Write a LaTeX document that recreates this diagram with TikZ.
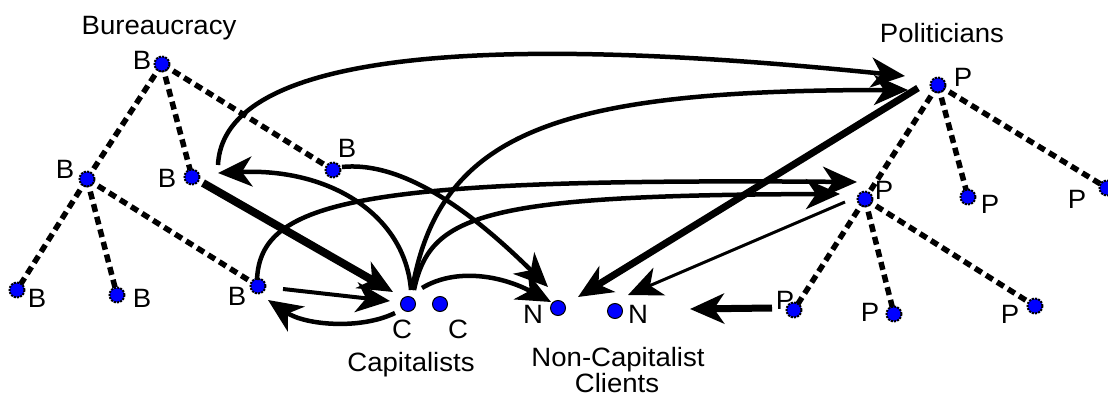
\documentclass[tikz,border=0pt]{standalone}
\usepackage{fontspec}
\setmainfont{Liberation Sans}[FakeStretch=1.04]
\usetikzlibrary{arrows.meta}
\pgfdeclarelayer{bg}
\pgfsetlayers{bg,main}
\begin{document}
\begin{tikzpicture}[x=1pt,y=-1pt,
  dot/.style={circle,fill=blue,draw=black,line width=2pt,dash pattern=on 2pt off 1.2pt,minimum size=15pt,inner sep=0},
  cdot/.style={circle,fill=blue,draw=black,line width=1pt,minimum size=15pt,inner sep=0},
  lbl/.style={anchor=base,inner sep=0,font=\fontsize{26.5}{30}\selectfont},
  tie/.style={line width=5.5pt,dash pattern=on 8pt off 5pt},
  arr/.style={line width=4.5pt,-{Stealth[length=34pt,width=30pt,inset=10pt]}},
]
\useasboundingbox (0,0) rectangle (1108,396);

% nodes
\node[dot] (B1) at (162,64) {};
\node[dot] (B2) at (87,179) {};
\node[dot] (B3) at (192,177) {};
\node[dot] (B4) at (333,170) {};
\node[dot] (B5) at (17,290) {};
\node[dot] (B6) at (117,295) {};
\node[dot] (B7) at (258,286) {};
\node[cdot] (C1) at (408,304) {};
\node[cdot] (C2) at (440,304) {};
\node[cdot] (N1) at (558,308) {};
\node[cdot] (N2) at (615,311) {};
\node[dot] (P1) at (938,85) {};
\node[dot] (P2) at (865,199) {};
\node[dot] (P3) at (968,197) {};
\node[dot] (P4) at (1107,188) {};
\node[dot] (P5) at (794,310) {};
\node[dot] (P6) at (894,314) {};
\node[dot] (P7) at (1035,306) {};

% labels
\node[lbl] (tBur) at (159,35) {Bureaucracy};
\node[lbl] (tPol) at (942,43) {Politicians};
\node[lbl] (tCap) at (411,371) {Capitalists};
\node[lbl] (tNon) at (618,366) {Non-Capitalist};
\node[lbl] (tCli) at (617,392) {Clients};
\node[lbl] (lB1) at (142,70) {B};
\node[lbl] (lB2) at (65,178) {B};
\node[lbl] (lB3) at (167,187) {B};
\node[lbl] (lB4) at (347,157) {B};
\node[lbl] (lB5) at (37,307) {B};
\node[lbl] (lB6) at (142,307) {B};
\node[lbl] (lB7) at (237,305) {B};
\node[lbl] (lC1) at (402,338) {C};
\node[lbl] (lC2) at (458,338) {C};
\node[lbl] (lN1) at (533,323) {N};
\node[lbl] (lN2) at (638,323) {N};
\node[lbl] (lP1) at (963,86) {P};
\node[lbl] (lP2) at (884,199) {P};
\node[lbl] (lP3) at (990,213) {P};
\node[lbl] (lP4) at (1077,208) {P};
\node[lbl] (lP5) at (785,309) {P};
\node[lbl] (lP6) at (870,321) {P};
\node[lbl] (lP7) at (1010,323) {P};

% hierarchy ties
\begin{pgfonlayer}{bg}
\draw[tie] (B1.center) -- (B2.center);
\draw[tie] (B1.center) -- (B3.center);
\draw[tie] (B1.center) -- (B4.center);
\draw[tie] (B2.center) -- (B5.center);
\draw[tie] (B2.center) -- (B6.center);
\draw[tie] (B2.center) -- (B7.center);
\draw[tie] (P1.center) -- (P2.center);
\draw[tie] (P1.center) -- (P3.center);
\draw[tie] (P1.center) -- (P4.center);
\draw[tie] (P2.center) -- (P5.center);
\draw[tie] (P2.center) -- (P6.center);
\draw[tie] (P2.center) -- (P7.center);
\end{pgfonlayer}

% connectors
\draw[arr,line width=8pt] ([shift={(11,6)}]B3.center) -- ([shift={(-15,-12)}]C1.center);
\draw[arr,line width=4pt] ([shift={(25,3)}]B7.center) -- ([shift={(-18,-3)}]C1.center);
\draw[arr] ([shift={(-13,9)}]C1.center) .. controls (360,330) and (305,325) .. ([shift={(10,14)}]B7.center);
\draw[arr] ([shift={(3,-14)}]C1.center) .. controls (405,215) and (330,168) .. ([shift={(26,-4)}]B3.center);
\draw[arr] ([shift={(9,-3)}]B4.center) .. controls (410,160) and (485,225) .. ([shift={(-10,-21)}]N1.center);
\draw[arr] ([shift={(14,-16)}]C1.center) .. controls (455,268) and (500,275) .. ([shift={(-7,-6)}]N1.center);
\draw[arr] ([shift={(26,-12)}]B3.center) .. controls (225,20) and (650,50) .. ([shift={(-33,-9)}]P1.center);
\draw[arr] ([shift={(4,-14)}]C1.center) .. controls (440,130) and (560,90) .. ([shift={(-30,5)}]P1.center);
\draw[arr,line width=7pt] ([shift={(-20,3)}]P1.center) -- ([shift={(20,-11)}]N1.center);
\draw[arr] ([shift={(-1,-6)}]B7.center) .. controls (260,200) and (360,178) .. ([shift={(-8,-17)}]P2.center);
\draw[arr] ([shift={(6,-14)}]C1.center) .. controls (430,215) and (480,195) .. ([shift={(-25,-5)}]P2.center);
\draw[arr,line width=3pt] ([shift={(-20,3)}]P2.center) -- ([shift={(13,-16)}]N2.center);
\draw[arr,line width=7pt] ([shift={(-22,-2)}]P5.center) -- ([shift={(75,-2)}]N2.center);
\end{tikzpicture}
\end{document}
